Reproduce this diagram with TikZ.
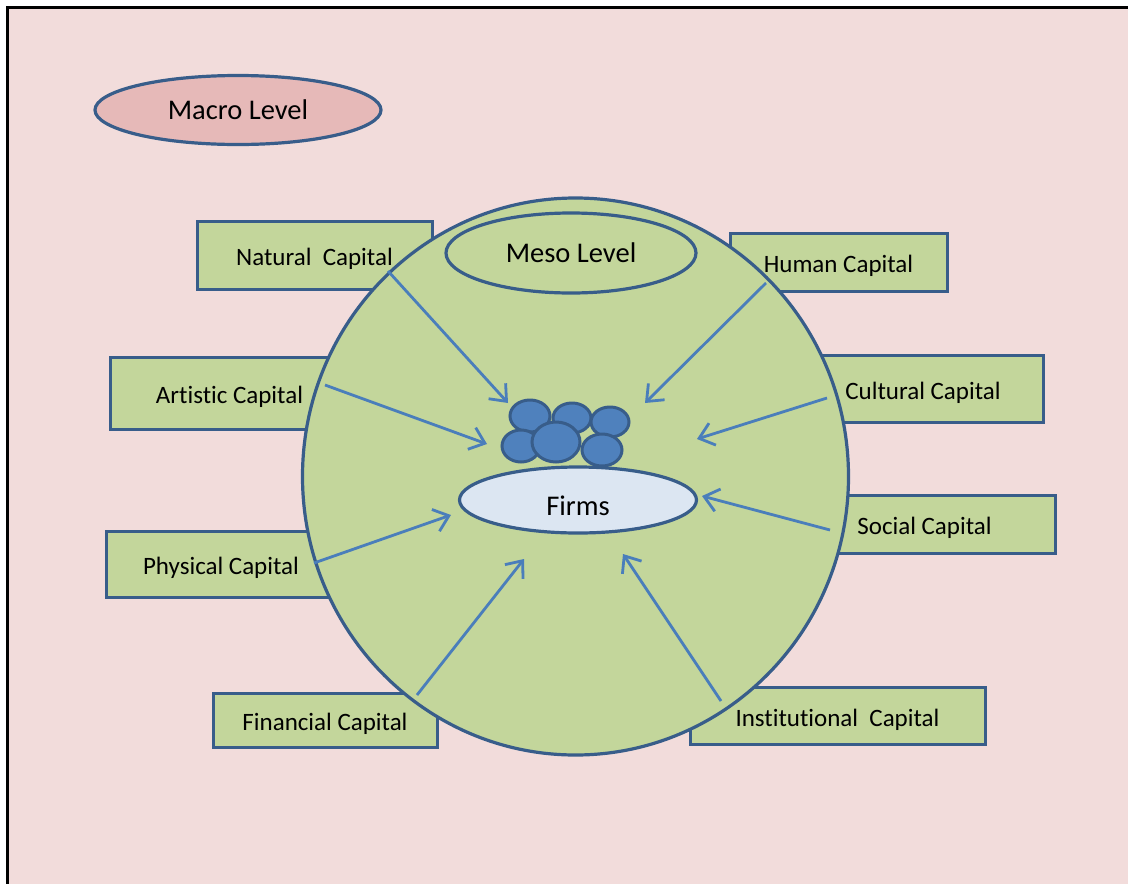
\documentclass[tikz,border=0pt]{standalone}
\usepackage{fontspec}
\setmainfont{Carlito}[Ligatures=NoCommon]
\usetikzlibrary{arrows.meta,shapes.geometric}

\definecolor{pagepink}{HTML}{F2DCDB}
\definecolor{mesogreen}{HTML}{C3D69B}
\definecolor{macrorose}{HTML}{E6B9B8}
\definecolor{firmfill}{HTML}{DCE6F2}
\definecolor{firmblue}{HTML}{4F81BD}
\definecolor{edgeblue}{HTML}{385D8A}
\definecolor{arrowblue}{HTML}{4A7EBB}

\tikzset{
  capbox/.style={draw=edgeblue, line width=3pt, fill=mesogreen, inner sep=0pt,
    font=\fontsize{25}{30}\selectfont, text height=24pt, text depth=2.5pt},
  levelshape/.style={ellipse, draw=edgeblue, line width=3.2pt, inner sep=0pt,
    font=\fontsize{28.5}{34}\selectfont},
  firmdot/.style={ellipse, draw=edgeblue, line width=3pt, fill=firmblue, inner sep=0pt},
  inflow/.style={draw=arrowblue, line width=2.8pt,
    -{Straight Barb[length=14pt,width=23pt]}}
}

\begin{document}
\begin{tikzpicture}[x=1pt,y=-1pt]
  \useasboundingbox (0,0) rectangle (1128,884);
  % page and frame
  \fill[white] (0,0) rectangle (1128,884);
  \fill[pagepink] (7.5,7.5) rectangle (1128,884);
  \draw[line width=3pt] (1128,7.5) -- (7.5,7.5) -- (7.5,884);

  % macro level
  \node[levelshape, fill=macrorose, minimum width=286pt, minimum height=69pt]
    (macro) at (238,110) {Macro Level};

  % forms of capital (behind the meso disc)
  \node[capbox, minimum width=235pt, minimum height=68pt] (natural) at (314.5,255) {Natural~~Capital};
  \node[capbox, minimum width=217pt, minimum height=58pt] (human) at (838.5,262) {Human Capital};
  \node[capbox, minimum width=239pt, minimum height=72pt] (artistic) at (229.5,393) {Artistic Capital};
  \node[capbox, minimum width=240pt, minimum height=67pt] (cultural) at (923,388.5) {Cultural Capital};
  \node[capbox, minimum width=230pt, minimum height=66pt] (physical) at (221,564) {Physical Capital};
  \node[capbox, minimum width=261pt, minimum height=58pt] (social) at (924.5,524) {Social Capital};
  \node[capbox, minimum width=224pt, minimum height=54pt] (financial) at (325,720) {Financial Capital};
  \node[capbox, minimum width=295pt, minimum height=57pt] (institutional) at (837.5,715.5) {Institutional~~Capital};

  % meso level disc
  \node[levelshape, fill=mesogreen, minimum width=546pt, minimum height=557pt] (mesoarea) at (575.5,476.5) {};
  \node[levelshape, fill=mesogreen, minimum width=250pt, minimum height=80pt] (mesolabel) at (571,253) {Meso Level};
  \node[levelshape, fill=firmfill, minimum width=237pt, minimum height=66pt,
    text height=31pt, text depth=0pt] (firms) at (578,500) {Firms};

  % cluster of firms
  \node[firmdot, minimum width=40pt, minimum height=32pt] (f1) at (530,416) {};
  \node[firmdot, minimum width=38pt, minimum height=30pt] (f2) at (572,418) {};
  \node[firmdot, minimum width=38pt, minimum height=30pt] (f3) at (610,422) {};
  \node[firmdot, minimum width=38pt, minimum height=32pt] (f4) at (521,446) {};
  \node[firmdot, minimum width=40pt, minimum height=32pt] (f6) at (602,450) {};
  \node[firmdot, minimum width=48pt, minimum height=40pt] (f5) at (556,442) {};

  % flows of capital into the firms
  \coordinate (naturalS) at (388,271);      \coordinate (naturalE) at (508,403);
  \coordinate (humanS) at (766,283);        \coordinate (humanE) at (645,403);
  \coordinate (artisticS) at (325,385);     \coordinate (artisticE) at (487,444);
  \coordinate (culturalS) at (827,398);     \coordinate (culturalE) at (697,439);
  \coordinate (physicalS) at (314,563);     \coordinate (physicalE) at (451,515);
  \coordinate (socialS) at (830,530);       \coordinate (socialE) at (702,496);
  \coordinate (financialS) at (417,695);    \coordinate (financialE) at (524,559);
  \coordinate (institutionalS) at (721,701); \coordinate (institutionalE) at (623,554);

  \foreach \c in {natural,human,artistic,cultural,physical,social,financial,institutional}
    \draw[inflow] (\c S) -- (\c E);
\end{tikzpicture}
\end{document}
